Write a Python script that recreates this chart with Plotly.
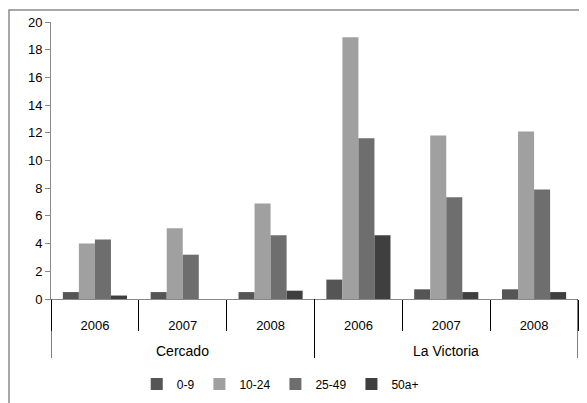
import plotly.graph_objects as go

districts = ["Cercado", "La Victoria"]
years = ["2006", "2007", "2008", "2006", "2007", "2008"]
series_names = ["0-9", "10-24", "25-49", "50a+"]
v_0_9 = [0.5, 0.5, 0.5, 1.4, 0.7, 0.7]
v_10_24 = [4.0, 5.1, 6.9, 18.9, 11.8, 12.1]
v_25_49 = [4.3, 3.2, 4.6, 11.6, 7.35, 7.9]
v_50 = [0.25, 0.0, 0.6, 4.6, 0.5, 0.5]
colors = ["#555555", "#a0a0a0", "#6e6e6e", "#3f3f3f"]

pos = list(range(len(years)))
per_group = len(years) // len(districts)

fig = go.Figure()
for name, vals, c in zip(series_names, [v_0_9, v_10_24, v_25_49, v_50], colors):
    fig.add_trace(go.Bar(
        x=pos, y=vals, name=name,
        marker=dict(color=c, line=dict(width=0)),
    ))

# page is offset by the default 8px body margin; plot area spans page x 51-578, y 22-299
shapes = [dict(type="rect", xref="paper", yref="paper",
               x0=-42/527, x1=1.2, y0=-0.5, y1=1 + 12/277,
               line=dict(color="#8a8a8a", width=1.5), fillcolor="rgba(0,0,0,0)", layer="below")]
bounds = [-0.5 + i * per_group for i in range(len(districts) + 1)]
for b in bounds:
    shapes.append(dict(type="line", xref="x", yref="paper", x0=b, x1=b, y0=0, y1=-59/277,
                       line=dict(color="#000000", width=1)))
annotations = []
for i, d in enumerate(districts):
    annotations.append(dict(x=i * per_group + (per_group - 1) / 2, y=-52/277, xref="x", yref="paper",
                            text=d, showarrow=False, yanchor="middle",
                            font=dict(size=14, color="#000000")))

fig.update_layout(
    width=587, height=403,
    margin=dict(l=43, r=17, t=14, b=112),
    barmode="group", bargap=0.27, bargroupgap=0,
    plot_bgcolor="white", paper_bgcolor="white",
    font=dict(family="Liberation Sans, Arial, sans-serif", size=12, color="#000000"),
    showlegend=True,
    legend=dict(orientation="h", x=0.435, xanchor="center", y=-85/277, yanchor="middle",
                font=dict(size=12), itemwidth=30, traceorder="normal"),
    shapes=shapes, annotations=annotations,
)
fig.update_xaxes(
    range=[-0.5, len(years) - 0.5], tickmode="array", tickvals=pos, ticktext=years,
    showline=True, linecolor="#888888", linewidth=1, automargin=False,
    ticks="", ticklabelstandoff=14,
    minor=dict(tickmode="array", tickvals=[p - 0.5 for p in pos] + [len(years) - 0.5],
               ticks="outside", ticklen=31, tickcolor="#000000", tickwidth=1),
    showgrid=False, zeroline=False, tickfont=dict(size=13),
)
fig.update_yaxes(
    range=[0, 20], dtick=2, showline=True, linecolor="#888888", linewidth=1, automargin=False,
    ticks="outside", ticklen=5, tickcolor="#888888", showgrid=False, zeroline=False,
    tickfont=dict(size=13),
)

fig.write_html("out.html", config={"displayModeBar": False})
